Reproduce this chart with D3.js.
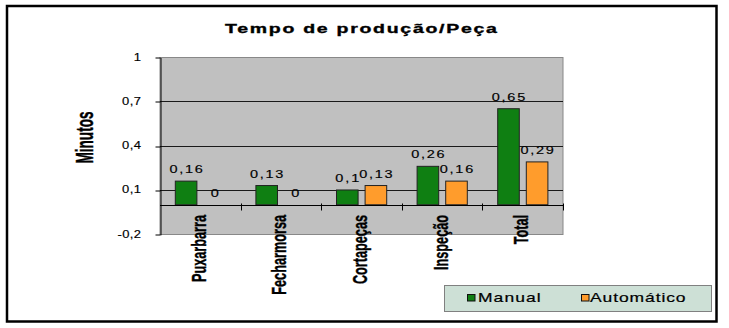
<!DOCTYPE html>
<html><head><meta charset="utf-8">
<script src="https://cdn.jsdelivr.net/npm/d3@7"></script>
<style>html,body{margin:0;padding:0;background:#fff;} svg{display:block;font-family:"Liberation Sans",Arial,sans-serif;}</style>
</head><body><svg id="c" width="729" height="328"></svg>
<script>
const categories = ["Puxarbarra", "Fecharmorsa", "Cortapeças", "Inspeção", "Total"];
const seriesNames = ["Manual", "Automático"];
const manualValues = [0.16, 0.13, 0.1, 0.26, 0.65];
const automaticoValues = [0, 0, 0.13, 0.16, 0.29];
const yTicks = [-0.2, 0.1, 0.4, 0.7, 1];
const titleText = "Tempo de produção/Peça";
const yAxisTitle = "Minutos";
const seriesColors = ["#0f7f12", "#ff9c2c"];

const seriesValues = [manualValues, automaticoValues];
const fmt = v => String(v).replace(".", ",");

const svg = d3.select("#c");
const P = {left: 160, right: 563, top: 57, bottom: 234.3};

const y = d3.scaleLinear().domain([-0.2, 1]).range([P.bottom, P.top]);
const x0 = d3.scaleBand().domain(categories).range([P.left, P.right]).paddingInner(0).paddingOuter(0);
const x1 = d3.scaleBand().domain(seriesNames).range([15.3, 65.5]).paddingInner(0.245).paddingOuter(0);
const px = v => Math.round(v) + 0.5;

function wideText(parent, x, yy, txt, o) {
  const g = parent.append("g").attr("transform", `translate(${x},${yy}) scale(${o.gs},1)`);
  const t = g.append("text").attr("x", 0).attr("y", 0)
    .attr("text-anchor", o.anchor || "start")
    .attr("font-size", o.size).attr("font-weight", o.weight || "normal")
    .attr("fill", "#000").attr("stroke", "#000").attr("stroke-width", o.sw || 0.15).text(txt);
  const w = t.node().getComputedTextLength();
  if (o.factor && txt.length > 1) t.attr("textLength", w * o.factor / o.gs).attr("lengthAdjust", "spacing");
  return t;
}
function rotText(parent, x, yy, txt, o) {
  parent.append("text")
    .attr("transform", `translate(${x},${yy}) rotate(-90) scale(1,${o.hs})`)
    .attr("text-anchor", o.anchor).attr("font-size", o.size).attr("font-weight", "bold")
    .attr("fill", "#000").attr("stroke", "#000").attr("stroke-width", 0.25).text(txt);
}

// outer frame
svg.append("rect").attr("x", 7).attr("y", 6).attr("width", 709.5).attr("height", 315.5)
  .attr("fill", "#fff").attr("stroke", "#000").attr("stroke-width", 2.5);

// title
wideText(svg, 361, 33, titleText, {anchor: "middle", size: 13, weight: "bold", gs: 1.5, factor: 1.73, sw: 0.35});

// plot background
svg.append("rect").attr("x", P.left).attr("y", px(y(1))).attr("width", P.right - P.left).attr("height", px(y(-0.2)) - px(y(1)))
  .attr("fill", "#c0c0c0").attr("stroke", "#888").attr("stroke-width", 1);

// gridlines
svg.append("g").selectAll("line").data(yTicks.filter(v => v > -0.2 && v < 1)).join("line")
  .attr("x1", P.left).attr("x2", P.right).attr("y1", d => px(y(d))).attr("y2", d => px(y(d)))
  .attr("stroke", "#1a1a1a").attr("stroke-width", 1);

// y axis
const yAxis = svg.append("g").attr("transform", `translate(${P.left + 0.5},0.5)`)
  .call(d3.axisLeft(y).tickValues(yTicks).tickSize(5).tickSizeOuter(0).tickFormat(""));
yAxis.selectAll("line").attr("stroke", "#000").attr("transform", d => `translate(0,${px(y(d)) - 0.5 - y(d)})`);
yAxis.select(".domain").attr("stroke", "#000");
yTicks.forEach(v => wideText(svg, 141, y(v) + 3.5, fmt(v), {anchor: "end", size: 10, gs: 1.3, factor: 1.37}));

// y axis title
rotText(svg, 93, 137.5, yAxisTitle, {anchor: "middle", size: 13.6, hs: 1.7});

// bars
const groups = svg.append("g").selectAll("g").data(categories).join("g")
  .attr("transform", c => `translate(${x0(c)},0)`);
groups.selectAll("rect").data((c, i) => seriesNames.map((s, j) => ({s, j, v: seriesValues[j][i]}))).join("rect")
  .attr("x", d => x1(d.s)).attr("width", x1.bandwidth())
  .attr("y", d => y(Math.max(d.v, 0))).attr("height", d => Math.abs(y(d.v) - y(0)))
  .attr("fill", d => seriesColors[d.j]).attr("stroke", "#222").attr("stroke-width", 1);

// category axis at 0
const y0 = px(y(0));
svg.append("line").attr("x1", P.left).attr("x2", P.right).attr("y1", y0).attr("y2", y0).attr("stroke", "#000");
const bounds = categories.slice(1).map(c => x0(c)).concat([P.right]);
svg.append("g").selectAll("line").data(bounds).join("line")
  .attr("x1", d => px(d)).attr("x2", d => px(d)).attr("y1", y0 - 2).attr("y2", y0 + 5).attr("stroke", "#000");

// data labels
categories.forEach((c, i) => {
  seriesNames.forEach((s, j) => {
    const v = seriesValues[j][i];
    wideText(svg, x0(c) + x1(s) + x1.bandwidth() / 2, y(v) - 8, fmt(v), {anchor: "middle", size: 10, gs: 1.45, factor: 1.72});
  });
});

// category labels
categories.forEach(c => rotText(svg, x0(c) + x0.bandwidth() / 2 + 5.5, 215, c, {anchor: "end", size: 12.7, hs: 1.62}));

// legend
const lg = svg.append("g");
lg.append("rect").attr("x", 444.5).attr("y", 285.5).attr("width", 267).attr("height", 26)
  .attr("fill", "#cde0d6").attr("stroke", "#808080");
const legendPos = [{sx: 467, tx: 478}, {sx: 581, tx: 590}];
seriesNames.forEach((s, j) => {
  lg.append("rect").attr("x", legendPos[j].sx + 0.5).attr("y", 294.5).attr("width", 7.5).attr("height", 6.5)
    .attr("fill", seriesColors[j]).attr("stroke", "#111");
  wideText(lg, legendPos[j].tx, 302, s, {anchor: "start", size: 12.5, gs: 1.4, factor: 1.53, sw: 0.2});
});
</script></body></html>
